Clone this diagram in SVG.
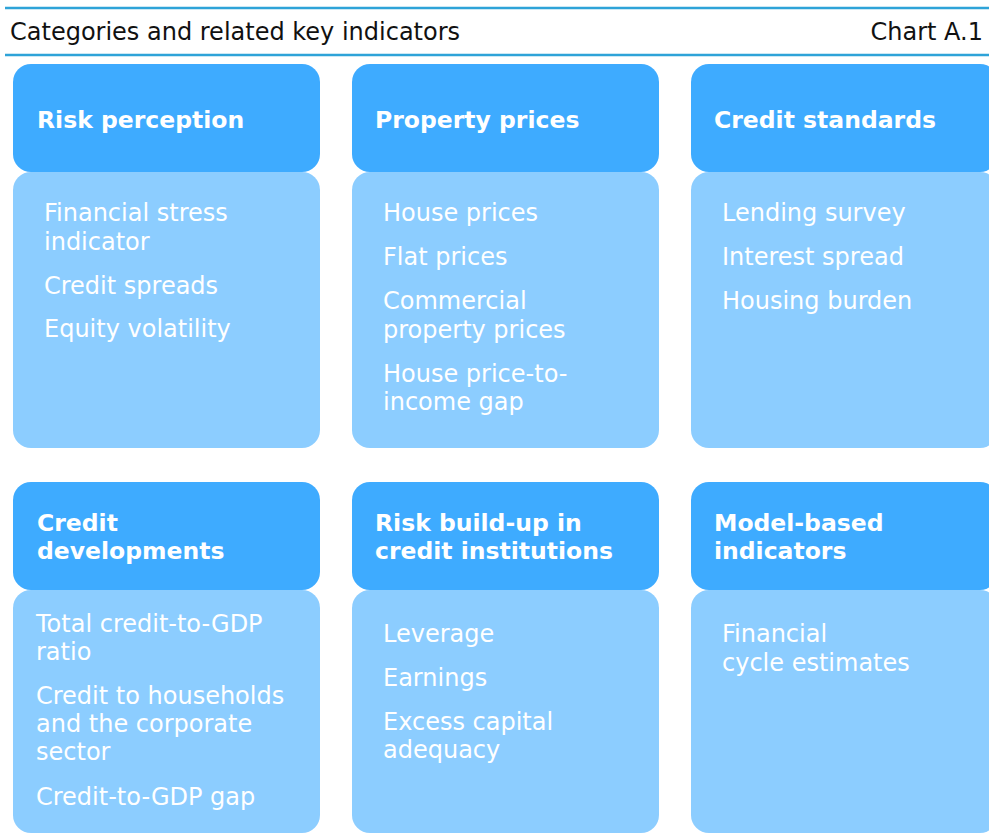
<svg xmlns="http://www.w3.org/2000/svg" width="989" height="836" viewBox="0 0 989 836">
<style>
.hd{fill:#3eabff}
.bd{fill:#8ccdff}
.ht{font-family:"DejaVu Sans",Verdana,sans-serif;font-size:23.5px;font-weight:bold;fill:#fff}
.bt{font-family:"DejaVu Sans",Verdana,sans-serif;font-size:24px;fill:#fff}
.tt{font-family:"DejaVu Sans",Verdana,sans-serif;font-size:24px;fill:#111}
.rule{stroke:#2ea3d8;stroke-width:2.5}
</style>
<rect width="989" height="836" fill="#fff"/>
<line class="rule" x1="5" y1="8" x2="989" y2="8"/>
<line class="rule" x1="5" y1="55" x2="989" y2="55"/>
<text class="tt" x="10" y="40">Categories and related key indicators</text>
<text class="tt" x="983" y="40" text-anchor="end">Chart A.1</text>

<g id="risk-perception">
<rect class="bd" x="13" y="172" width="307" height="276" rx="18"/>
<rect class="hd" x="13" y="64" width="307" height="108" rx="18"/>
<text class="ht" x="37" y="128">Risk perception</text>
<text class="bt" x="44" y="221">Financial stress</text>
<text class="bt" x="44" y="250">indicator</text>
<text class="bt" x="44" y="294">Credit spreads</text>
<text class="bt" x="44" y="337">Equity volatility</text>
</g>

<g id="property-prices">
<rect class="bd" x="352" y="172" width="307" height="276" rx="18"/>
<rect class="hd" x="352" y="64" width="307" height="108" rx="18"/>
<text class="ht" x="375" y="128">Property prices</text>
<text class="bt" x="383" y="221">House prices</text>
<text class="bt" x="383" y="265">Flat prices</text>
<text class="bt" x="383" y="309">Commercial</text>
<text class="bt" x="383" y="338">property prices</text>
<text class="bt" x="383" y="382">House price-to-</text>
<text class="bt" x="383" y="410">income gap</text>
</g>

<g id="credit-standards">
<rect class="bd" x="691" y="172" width="307" height="276" rx="18"/>
<rect class="hd" x="691" y="64" width="307" height="108" rx="18"/>
<text class="ht" x="714" y="128">Credit standards</text>
<text class="bt" x="722" y="221">Lending survey</text>
<text class="bt" x="722" y="265">Interest spread</text>
<text class="bt" x="722" y="309">Housing burden</text>
</g>

<g id="credit-developments">
<rect class="bd" x="13" y="590" width="307" height="243" rx="18"/>
<rect class="hd" x="13" y="482" width="307" height="108" rx="18"/>
<text class="ht" x="37" y="531">Credit</text>
<text class="ht" x="37" y="559">developments</text>
<text class="bt" x="36" y="632">Total credit-to-GDP</text>
<text class="bt" x="36" y="660">ratio</text>
<text class="bt" x="36" y="704">Credit to households</text>
<text class="bt" x="36" y="732">and the corporate</text>
<text class="bt" x="36" y="760">sector</text>
<text class="bt" x="36" y="805">Credit-to-GDP gap</text>
</g>

<g id="risk-build-up">
<rect class="bd" x="352" y="590" width="307" height="243" rx="18"/>
<rect class="hd" x="352" y="482" width="307" height="108" rx="18"/>
<text class="ht" x="375" y="531">Risk build-up in</text>
<text class="ht" x="375" y="559">credit institutions</text>
<text class="bt" x="383" y="642">Leverage</text>
<text class="bt" x="383" y="686">Earnings</text>
<text class="bt" x="383" y="730">Excess capital</text>
<text class="bt" x="383" y="758">adequacy</text>
</g>

<g id="model-based">
<rect class="bd" x="691" y="590" width="307" height="243" rx="18"/>
<rect class="hd" x="691" y="482" width="307" height="108" rx="18"/>
<text class="ht" x="714" y="531">Model-based</text>
<text class="ht" x="714" y="559">indicators</text>
<text class="bt" x="722" y="642">Financial</text>
<text class="bt" x="722" y="671">cycle estimates</text>
</g>

<g id="connectors"></g>
</svg>
